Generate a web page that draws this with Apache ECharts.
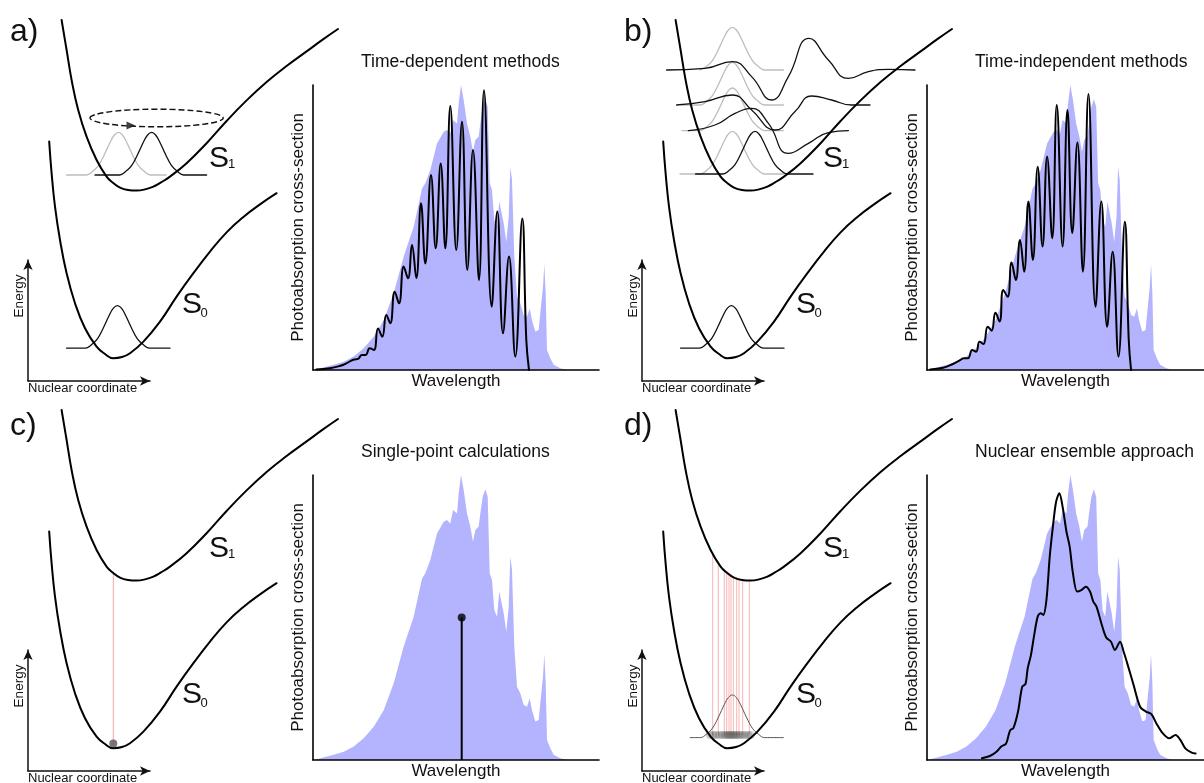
<!DOCTYPE html>
<html><head><meta charset="utf-8">
<script src="https://cdn.jsdelivr.net/npm/echarts@6/dist/echarts.min.js"></script>
<style>html,body{margin:0;padding:0;background:#fff}#c{width:1204px;height:783px}</style>
</head><body><div id="c"></div>
<script>
// ---------------- DATA ----------------
// Reference photoabsorption spectrum (shaded blue) : [wavelength (arb.), intensity]
const refSpectrum = [[0,0],[7.3,0.006],[20.7,0.018],[30.7,0.029],[40.7,0.047],[50.7,0.076],[60.7,0.117],[70.7,0.175],[80.7,0.269],[90.7,0.398],[94,0.433],[100.7,0.503],[109,0.637],[112.3,0.655],[117.3,0.702],[124,0.795],[130.7,0.836],[134,0.842],[137.3,0.83],[140,0.877],[141.7,0.883],[144,0.865],[145.7,0.936],[148,1.0],[150.7,0.947],[154,0.865],[157.3,0.819],[160,0.766],[162.3,0.807],[165.7,0.819],[167.3,0.865],[169.7,0.924],[172.3,0.95],[174.7,0.924],[176.7,0.655],[179,0.632],[181.3,0.526],[184,0.503],[186.3,0.591],[188.3,0.585],[190.7,0.515],[193.3,0.45],[195.7,0.538],[197.3,0.713],[199,0.667],[201.3,0.398],[204,0.257],[207.3,0.234],[210.7,0.193],[214,0.187],[216.7,0.216],[219,0.175],[222.3,0.135],[225.7,0.14],[227.3,0.199],[230,0.292],[231.3,0.372],[232.7,0.269],[234,0.07],[237.3,0.041],[240.7,0.018],[247.3,0.006],[254,0]];
// a) time-dependent spectrum
const tdSpectrum = [[3.3,0.002],[16.7,0.006],[26.7,0.014],[33.3,0.023],[38.3,0.033],[41.7,0.037],[45,0.039],[49,0.053],[52.7,0.053],[56.7,0.076],[61,0.07],[65,0.146],[69.3,0.117],[73.3,0.193],[77.3,0.164],[81.7,0.275],[86,0.234],[90.7,0.363],[95,0.322],[99,0.439],[103.3,0.322],[108,0.585],[112.3,0.374],[118,0.684],[122.7,0.427],[127.7,0.725],[132.3,0.427],[137.3,0.926],[143.3,0.421],[149,0.871],[154.3,0.351],[160,0.772],[166,0.316],[171,0.982],[178.7,0.222],[184.3,0.556],[190,0.129],[196,0.398],[202.3,0.047],[209.3,0.532],[213.3,0.105],[216,0]];
// b) time-independent spectrum
const tiSpectrum = [[3.3,0.002],[16.7,0.008],[26.7,0.021],[33.3,0.033],[38.3,0.041],[42.3,0.041],[46.7,0.07],[50.7,0.064],[54.3,0.099],[58.3,0.091],[62.7,0.152],[66.7,0.138],[70.7,0.201],[75,0.17],[78.7,0.281],[83.3,0.257],[87.3,0.377],[91.7,0.316],[96,0.456],[100.3,0.345],[104.7,0.591],[109.3,0.386],[114.3,0.713],[119.3,0.433],[124,0.749],[129.3,0.462],[134,0.93],[140,0.433],[145,0.912],[150,0.48],[155.3,0.798],[161,0.345],[166.7,0.968],[174,0.222],[180,0.591],[186,0.152],[191.7,0.415],[197.7,0.047],[204.3,0.52],[208.3,0.105],[210.7,0]];
// c) single-point vertical excitation : [wavelength, intensity]
const spStick = [148.7, 0.5];
// d) nuclear ensemble spectrum
const neaSpectrum = [[56.7,0.006],[65,0.014],[71.7,0.029],[76.7,0.047],[81.7,0.058],[85.7,0.103],[89.3,0.113],[94,0.17],[98.3,0.257],[101.7,0.267],[104,0.322],[107.3,0.368],[110.7,0.439],[114.3,0.503],[117.3,0.515],[120,0.509],[123.3,0.561],[126.7,0.713],[130,0.819],[133.3,0.906],[136.7,0.936],[140,0.889],[144,0.801],[147.3,0.749],[150.7,0.655],[155,0.591],[159.3,0.596],[164,0.608],[168.3,0.591],[171.7,0.556],[175,0.538],[180,0.48],[185,0.43],[190,0.415],[194,0.386],[199.3,0.415],[203.3,0.377],[207.3,0.333],[213.3,0.263],[220,0.187],[226,0.17],[231.7,0.161],[236.7,0.129],[243.3,0.094],[250,0.076],[256.7,0.088],[261.7,0.07],[266.7,0.041],[273.3,0.026],[277.3,0.023]];

// Potential energy curves : [nuclear coordinate, energy] (arb. units)
const s1Curve = [[2.08,17.9],[2.33,16.4],[2.58,14.9],[2.91,13.4],[3.33,12.07],[3.83,10.9],[4.33,10.07],[4.65,9.76],[5.0,9.52],[5.4,9.4],[5.83,9.37],[6.25,9.43],[6.67,9.57],[7.05,9.78],[7.5,10.07],[8.33,10.74],[9.33,11.74],[10.33,12.85],[11.33,13.88],[12.33,14.8],[13.33,15.6],[14.33,16.33],[15.15,16.93],[15.9,17.45]];
const s0Curve = [[1.46,11.82],[1.58,10.24],[1.75,8.57],[2.0,6.9],[2.33,5.24],[2.75,3.74],[3.25,2.49],[3.83,1.57],[4.25,1.2],[4.66,0.99],[5.1,1.05],[5.5,1.24],[6.17,1.82],[7.0,2.82],[7.83,4.07],[8.67,5.24],[9.5,6.32],[10.33,7.28],[11.17,8.05],[12.0,8.68],[12.83,9.24]];

// Gaussian wave-packet profile : offset from centre, relative height
const gaussDx = [-1.6,-1.3,-1.0,-0.7,-0.4,-0.2,0,0.2,0.4,0.7,1.0,1.3,1.6];
const gaussH  = [0,0.08,0.22,0.48,0.78,0.94,1,0.94,0.78,0.48,0.22,0.08,0];
const packetHeight = 2.13;

// a) packets : [centre, baseline, start, end]
const aGrayPacket  = [4.92, 10.15, 2.33, 7.3];
const aBlackPacket = [6.58, 10.15, 3.75, 9.33];
const groundPacket = [4.87, 1.49, 2.33, 7.5];
// a) dashed ellipse : [cx, cy, rx, ry] and arrow head position
const aEllipse = [6.83, 13.0, 3.33, 0.44];
const aArrowHead = [5.55, 12.62];

// b) stacked propagated packets (black) and initial packets (grey)
const bLevel1 = [[1.63,15.4],[3.55,15.48],[4.92,15.82],[5.88,15.07],[6.88,13.9],[7.72,15.07],[8.75,16.98],[9.72,15.9],[10.72,14.98],[11.72,15.32],[12.72,15.43],[14.05,15.4]];
const bLevel2 = [[2.13,13.65],[3.55,13.82],[4.92,14.15],[5.88,13.4],[7.05,12.4],[8.05,13.32],[8.88,14.1],[9.88,13.9],[10.88,13.65],[11.8,13.65]];
const bLevel3 = [[2.72,12.37],[4.05,12.65],[5.05,13.23],[5.88,13.48],[6.72,12.73],[7.72,11.23],[8.72,11.73],[9.72,12.27],[10.72,12.37]];
const bLevel4Packet = [6.05, 10.2, 3.08, 8.95];
const bGrayPackets = [[4.92,15.4,3.3,7.47],[4.92,13.65,2.4,7.47],[4.92,12.37,2.4,7.47],[4.92,10.2,2.3,7.47]];

// c) single geometry : [x, bottom, top]
const cTransition = [4.665, 1.22, 9.82];

// d) ensemble geometries : [x, bottom, top]
const dTransitions = [[3.935,1.65,10.8],[4.215,1.65,10.32],[4.515,1.65,9.96],[4.635,1.65,9.86],[4.75,1.65,9.76],[4.85,1.65,9.68],[4.965,1.65,9.58],[5.135,1.65,9.53],[5.25,1.65,9.5],[5.435,1.65,9.47],[5.765,1.65,9.42]];
const dDotsX = [3.8,3.95,4.1,4.25,4.4,4.52,4.62,4.7,4.78,4.86,4.94,5.02,5.1,5.2,5.3,5.42,5.55,5.7,5.82];
const dDotY = 1.65;
const dPacket = [4.92, 1.52, 2.8, 7.47];

const panelLetters = ['a)','b)','c)','d)'];
const panelTitles = ['Time-dependent methods','Time-independent methods','Single-point calculations','Nuclear ensemble approach'];

// ---------------- BUILD ----------------
const FONT = '"Liberation Sans", Arial, Helvetica, sans-serif';
const OFF = [[0,0],[614,0],[0,390],[614,390]];
const grids = [], xAxes = [], yAxes = [], series = [], graphics = [];

function packet(p){
  const [c, base, x0, x1] = p;
  const pts = [[x0, base]];
  gaussDx.forEach((d,i)=>pts.push([c + d, base + packetHeight*gaussH[i]]));
  pts.push([x1, base]);
  return pts;
}
function lineS(gi, data, color, width, smooth, z){
  return {type:'line', xAxisIndex:gi, yAxisIndex:gi, data, symbol:'none', smooth: smooth, silent:true,
          lineStyle:{color, width, cap:'round', join:'round'}, z: z || 2};
}
function vlines(gi, data, color, width, z){
  return {type:'custom', xAxisIndex:gi, yAxisIndex:gi, data, silent:true, z: z||1,
    renderItem:(params, api)=>{
      const a = api.coord([api.value(0), api.value(1)]);
      const b = api.coord([api.value(0), api.value(2)]);
      return {type:'line', shape:{x1:a[0], y1:a[1], x2:b[0], y2:b[1]}, style:{stroke:color, lineWidth:width}};
    }};
}
const hidden = {show:false};
const arrowAxis = {axisLine:{show:true, onZero:false, lineStyle:{color:'#111', width:1.5}, symbol:['none','arrow'], symbolSize:[7,10]},
                   axisTick:hidden, axisLabel:hidden, splitLine:hidden};

OFF.forEach(([ox,oy], p)=>{
  const gP = 3*p, gE = 3*p+1, gS = 3*p+2;
  // potential grid
  grids.push({left:ox+20, top:oy+18, width:320, height:360});
  xAxes.push({type:'value', gridIndex:gP, min:0, max:16, show:false});
  yAxes.push({type:'value', gridIndex:gP, min:0, max:18, show:false});
  // energy / nuclear coordinate arrows
  grids.push({left:ox+28, top:oy+260, width:122, height:121});
  xAxes.push(Object.assign({type:'value', gridIndex:gE, min:0, max:1}, arrowAxis));
  yAxes.push(Object.assign({type:'value', gridIndex:gE, min:0, max:1}, arrowAxis));
  // spectrum grid
  grids.push({left:ox+313, top:oy+85, width:286, height:285});
  xAxes.push({type:'value', gridIndex:gS, min:0, max:286, z:5,
    axisLine:{show:true, onZero:false, lineStyle:{color:'#000', width:1.6}}, axisTick:hidden, axisLabel:hidden, splitLine:hidden,
    name:'Wavelength', nameLocation:'middle', nameGap:3,
    nameTextStyle:{fontSize:17, fontFamily:FONT, color:'#111', verticalAlign:'top'}});
  yAxes.push({type:'value', gridIndex:gS, min:0, max:1, z:5,
    axisLine:{show:true, onZero:false, lineStyle:{color:'#000', width:1.6}}, axisTick:hidden, axisLabel:hidden, splitLine:hidden,
    name:'Photoabsorption cross-section', nameLocation:'middle', nameGap:6,
    nameTextStyle:{fontSize:17, fontFamily:FONT, color:'#111'}});

  // spectrum series
  series.push({type:'line', xAxisIndex:gS, yAxisIndex:gS, data:refSpectrum, symbol:'none', silent:true,
               lineStyle:{width:0}, areaStyle:{color:'#b4b4fe', opacity:1}, z:1});
  if (p===0) series.push(lineS(gS, tdSpectrum, '#000', 2, 0.45, 3));
  if (p===1) series.push(lineS(gS, tiSpectrum, '#000', 2, 0.45, 3));
  if (p===2) {
    series.push(vlines(gS, [[spStick[0], 0, spStick[1]]], '#000', 2, 3));
    series.push({type:'scatter', xAxisIndex:gS, yAxisIndex:gS, data:[spStick], symbol:'circle', symbolSize:8, silent:true,
                 itemStyle:{color:'#000'}, z:4});
  }
  if (p===3) series.push(lineS(gS, neaSpectrum, '#000', 2, 0.3, 3));

  // potential decorations (under curves)
  if (p===0) {
    series.push(lineS(gP, packet(aGrayPacket), '#bdbdbd', 1.3, 0.4, 1));
    series.push(lineS(gP, packet(aBlackPacket), '#111', 1.3, 0.4, 2));
    series.push(lineS(gP, packet(groundPacket), '#111', 1.3, 0.4, 2));
    series.push({type:'custom', xAxisIndex:gP, yAxisIndex:gP, data:[aEllipse], silent:true, z:2,
      renderItem:(params, api)=>{
        const c = api.coord([api.value(0), api.value(1)]);
        const s = api.size([api.value(2), api.value(3)]);
        return {type:'ellipse', shape:{cx:c[0], cy:c[1], rx:s[0], ry:s[1]},
                style:{fill:'none', stroke:'#111', lineWidth:1.4, lineDash:[6,3]}};
      }});
    series.push({type:'scatter', xAxisIndex:gP, yAxisIndex:gP, data:[aArrowHead], symbol:'triangle', symbolRotate:-90,
                 symbolSize:[8,9], silent:true, itemStyle:{color:'#111'}, z:3});
  }
  if (p===1) {
    bGrayPackets.forEach(g=>series.push(lineS(gP, packet(g), '#bdbdbd', 1.3, 0.4, 1)));
    [bLevel1, bLevel2, bLevel3].forEach(l=>series.push(lineS(gP, l, '#111', 1.3, 0.5, 2)));
    series.push(lineS(gP, packet(bLevel4Packet), '#111', 1.3, 0.4, 2));
    series.push(lineS(gP, packet(groundPacket), '#111', 1.3, 0.4, 2));
  }
  if (p===2) {
    series.push(vlines(gP, [cTransition], 'rgba(240,90,90,0.55)', 1, 1));
    series.push({type:'scatter', xAxisIndex:gP, yAxisIndex:gP, data:[[cTransition[0], cTransition[1]]], symbol:'circle',
                 symbolSize:8, silent:true, itemStyle:{color:'#555'}, z:4});
  }
  if (p===3) {
    series.push(vlines(gP, dTransitions, 'rgba(240,90,90,0.45)', 1, 1));
    series.push(lineS(gP, packet(dPacket), '#555', 1, 0.4, 2));
    series.push({type:'scatter', xAxisIndex:gP, yAxisIndex:gP, data:dDotsX.map(x=>[x, dDotY]), symbol:'circle',
                 symbolSize:8, silent:true, itemStyle:{color:'rgba(70,70,70,0.33)'}, z:3});
  }
  // potential curves
  series.push(lineS(gP, s1Curve, '#000', 2, 0.45, 5));
  series.push(lineS(gP, s0Curve, '#000', 2, 0.45, 5));

  // texts
  const T = (x,y,text,size,extra)=>Object.assign({type:'text', x:ox+x, y:oy+y, silent:true,
     style:{text, fontSize:size, fontFamily:FONT, fill:'#111', textAlign:'left', align:'left',
            textVerticalAlign:'middle', verticalAlign:'middle'}}, extra||{});
  graphics.push(T(10, p<2?32:36, panelLetters[p], 32));
  graphics.push(T(361, 62, panelTitles[p], 17.5));
  graphics.push(T(209, 158.5, 'S', 30));
  graphics.push(T(228, 164, '1', 13));
  graphics.push(T(182, 305, 'S', 30));
  graphics.push(T(200.5, 313, '0', 13));
  const e = T(19, 296, 'Energy', 13.5, {rotation:Math.PI/2});
  e.style.textAlign = 'center'; e.style.align = 'center';
  graphics.push(e);
  const n = T(28, 382, 'Nuclear coordinate', 13);
  n.style.textVerticalAlign = 'top'; n.style.verticalAlign = 'top';
  graphics.push(n);
});

const chart = echarts.init(document.getElementById('c'), null, {renderer:'canvas'});
chart.setOption({
  animation:false,
  backgroundColor:'#fff',
  textStyle:{fontFamily:FONT},
  grid:grids, xAxis:xAxes, yAxis:yAxes, series, graphic:{elements:graphics}
});
</script>
</body></html>
